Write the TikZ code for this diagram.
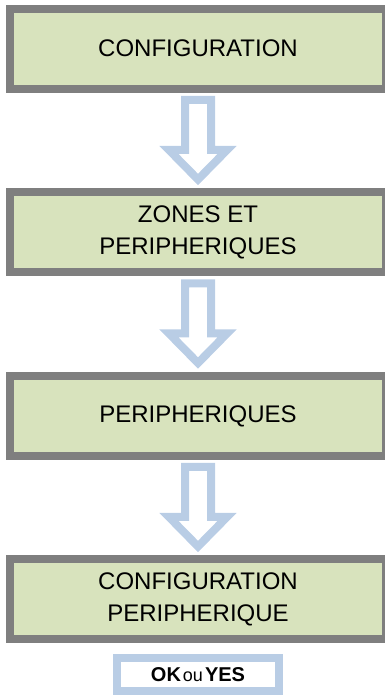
\documentclass[tikz,border=0pt]{standalone}
\usepackage{fontspec}
\setmainfont{Liberation Sans}
\usetikzlibrary{calc}
\definecolor{boxgray}{HTML}{7F7F7F}
\definecolor{boxfill}{HTML}{D8E3BD}
\definecolor{arrowblue}{HTML}{B9CDE5}
\tikzset{
  stepbox/.style={draw=boxgray, fill=boxfill, line width=8pt, rectangle,
    minimum width=376pt, minimum height=80pt, inner sep=0pt, align=center,
    font=\fontsize{24}{32}\selectfont},
  barrow/.style={draw=arrowblue, line width=8pt, miter limit=10},
  okbox/.style={draw=arrowblue, fill=white, line width=8pt, rectangle,
    minimum width=162pt, minimum height=33pt, inner sep=0pt}
}
\newcommand\blockarrow[2]{%
  \draw[barrow] let \p1=(#1.south), \p2=(#2.north) in
    (\x1-13pt,\y1-7pt) -- (\x1+13pt,\y1-7pt) -- (\x1+13pt,\y1-57pt)
    -- (\x1+29pt,\y1-57pt) -- (\x1,\y2+9pt) -- (\x1-29pt,\y1-57pt)
    -- (\x1-13pt,\y1-57pt) -- cycle;}
\begin{document}
\begin{tikzpicture}[x=1pt,y=1pt]
\useasboundingbox (0,0) rectangle (385,696);
\clip (0,0) rectangle (385,696);
\node[stepbox] (b1) at (198,647) {\raisebox{2pt}{CONFIGURATION}};
\node[stepbox] (b2) at (198,463.5) {ZONES ET\\PERIPHERIQUES};
\node[stepbox] (b3) at (198,280) {\raisebox{2pt}{PERIPHERIQUES}};
\node[stepbox] (b4) at (198,96.5) {CONFIGURATION\\PERIPHERIQUE};
\node[okbox] (ok) at (198,21.5) {\raisebox{-2pt}{\fontsize{20}{22}\selectfont\bfseries OK\hspace{2pt}{\mdseries\fontsize{18}{20}\selectfont ou}\hspace{2pt}YES}};
\blockarrow{b1}{b2}
\blockarrow{b2}{b3}
\blockarrow{b3}{b4}
\end{tikzpicture}
\end{document}
